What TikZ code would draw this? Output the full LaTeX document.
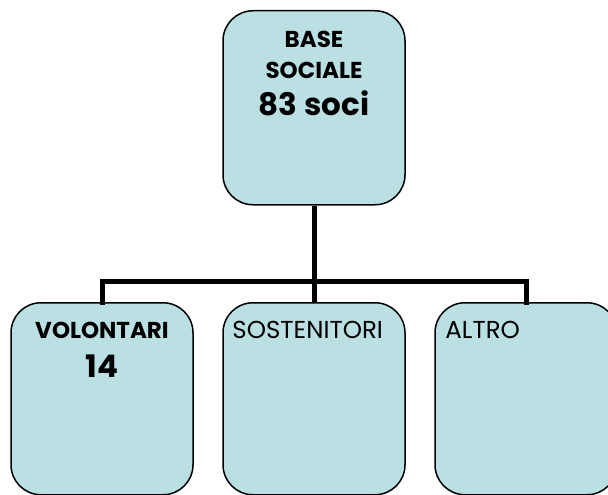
\documentclass[tikz,border=0pt]{standalone}
\usepackage{fontspec}
\setmainfont{Poppins}
\usetikzlibrary{calc}
\definecolor{boxfill}{HTML}{BBE0E3}
\tikzset{
  orgbox/.style={draw=black, line width=1.5pt, fill=boxfill, rounded corners=30pt,
    minimum width=182pt, minimum height=192pt, inner sep=0pt, anchor=north, text=black},
  link/.style={draw=black, line width=5pt},
  boldsmall/.style={font=\bfseries\fontsize{23}{26}\selectfont, anchor=base, inner sep=0pt},
  boldbig/.style={font=\bfseries\fontsize{31}{36}\selectfont, anchor=base, inner sep=0pt},
  plain/.style={font=\fontsize{24.5}{28}\selectfont, anchor=base west, inner sep=0pt}
}
\begin{document}
\begin{tikzpicture}[x=1pt,y=-1pt]
\useasboundingbox (0,0) rectangle (608,495);
\clip (0,0) rectangle (608,495);
\node[orgbox, minimum height=194pt] (top) at (314,10) {};
\node[orgbox] (vol) at (102,302) {};
\node[orgbox] (sos) at (314,302) {};
\node[orgbox] (alt) at (526,302) {};
\coordinate (bar) at (314,281.5);
\draw[link] (top.south) -- (bar);
\draw[link, line cap=rect] (vol.north) |- (bar) -| (alt.north);
\draw[link] (bar) -- (sos.north);
\node[boldsmall] (t1) at ($(top.north)+(0,38)$) {BASE};
\node[boldsmall] (t2) at ($(top.north)+(0,68)$) {SOCIALE};
\node[boldbig] (t3) at ($(top.north)+(0,105)$) {83 soci};
\node[boldsmall] (v1) at ($(vol.north)+(0,36)$) {VOLONTARI};
\node[boldbig] (v2) at ($(vol.north)+(0,75)$) {14};
\node[plain] (s1) at ($(sos.north west)+(10,36)$) {SOSTENITORI};
\node[plain] (a1) at ($(alt.north west)+(11,36)$) {ALTRO};
\end{tikzpicture}
\end{document}
